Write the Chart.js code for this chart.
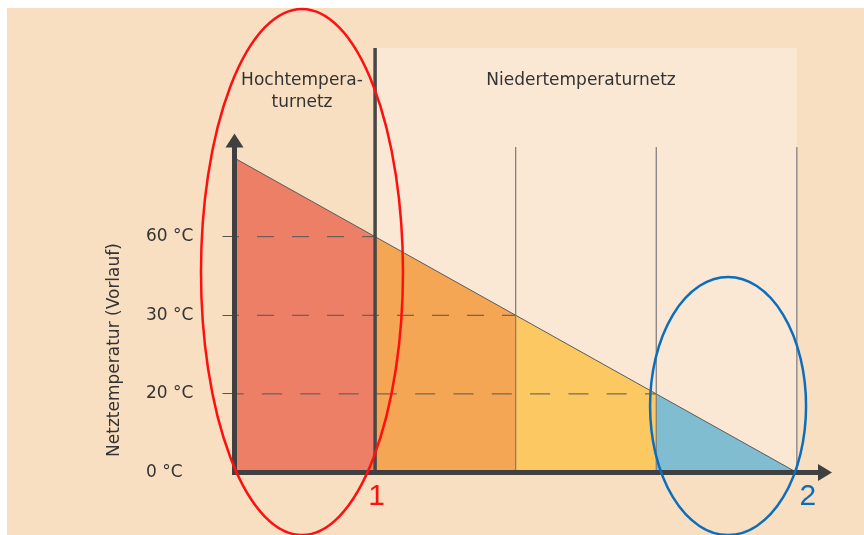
<!DOCTYPE html>
<html lang="de">
<head>
<meta charset="UTF-8">
<title>Netztemperatur</title>
<script src="https://cdn.jsdelivr.net/npm/chart.js"></script>
<style>
  html, body { margin: 0; padding: 0; background: #fff; }
  #wrap { width: 864px; height: 535px; position: relative; }
</style>
</head>
<body>
<div id="wrap"><canvas id="chart"></canvas></div>
<script>
// network sections along the x axis (equally spaced, schematic)
const stageX = [0, 1, 2, 3, 4];
// position of the supply temperature line on the (ordinal) temperature axis
const supplyLevel = [4, 3, 2, 1, 0];
// temperature axis ticks
const tempLevels = [0, 1, 2, 3];
const tempLabels = ['0 °C', '20 °C', '30 °C', '60 °C'];
// dashed guides: level and the section where they hit the supply line
const guideLevels = [3, 2, 1];
const guideEnds = [1, 2, 3];
// section areas under the line
const areaColors = ['#ec7f66', '#f5a654', '#fcc862', '#80bdd0'];
const netNames = [['Hochtempera-', 'turnetz'], ['Niedertemperaturnetz']];
const axisTitle = 'Netztemperatur (Vorlauf)';
const markers = ['1', '2'];

const FONT = "'DejaVu Sans', Verdana, sans-serif";
const guideDash = [[17, 18], [17, 18], [20, 18.3]];
const guideOffset = [12.5, 12.5, 10.8];

const datasets = [];
guideLevels.forEach((lvl, i) => {
    datasets.push({
        data: [{ x: 0, y: lvl }, { x: guideEnds[i], y: lvl }],
        borderColor: '#555',
        borderWidth: 1,
        borderDash: guideDash[i],
        borderDashOffset: guideOffset[i],
        pointRadius: 0,
        fill: false,
        order: 0
    });
});
for (let i = 0; i < stageX.length - 1; i++) {
    datasets.push({
        data: [
            { x: stageX[i], y: supplyLevel[i] },
            { x: stageX[i + 1], y: supplyLevel[i + 1] }
        ],
        backgroundColor: areaColors[i],
        borderColor: '#5a5a5a',
        borderWidth: 1,
        fill: 'origin',
        pointRadius: 0,
        order: 1
    });
}

// backgrounds, section lines, arrows, labels and the two marker ellipses
const decor = {
    id: 'decor',
    beforeDraw(chart) {
        const { ctx, scales: { x, y } } = chart;
        ctx.save();
        ctx.fillStyle = '#fff';
        ctx.fillRect(0, 0, chart.width, chart.height);
        ctx.fillStyle = '#f9dfc2';
        ctx.fillRect(7, 8, chart.width - 7, chart.height - 8);
        const x1 = x.getPixelForValue(stageX[1]);
        const x4 = x.getPixelForValue(stageX[4]);
        ctx.fillStyle = '#fae7d4';
        ctx.fillRect(x1, 48, x4 - x1, y.getPixelForValue(0) - 48);
        ctx.restore();
    },
    afterDatasetsDraw(chart) {
        const { ctx, chartArea: a, scales: { x, y } } = chart;
        const y0 = y.getPixelForValue(0);
        const x0 = x.getPixelForValue(0);
        ctx.save();

        // thin section lines
        ctx.strokeStyle = '#7a7a7a';
        ctx.lineWidth = 1.2;
        for (let i = 2; i < stageX.length; i++) {
            const px = x.getPixelForValue(stageX[i]);
            ctx.beginPath();
            ctx.moveTo(px, 147);
            ctx.lineTo(px, y0);
            ctx.stroke();
        }
        // border between high and low temperature net
        const xb = x.getPixelForValue(stageX[1]);
        ctx.strokeStyle = '#474747';
        ctx.lineWidth = 3.5;
        ctx.beginPath();
        ctx.moveTo(xb, 48);
        ctx.lineTo(xb, y0);
        ctx.stroke();

        // axes with arrow heads
        ctx.strokeStyle = '#404040';
        ctx.fillStyle = '#404040';
        ctx.lineWidth = 5;
        ctx.beginPath();
        ctx.moveTo(x0, y0 + 2.5);
        ctx.lineTo(x0, a.top + 12);
        ctx.moveTo(x0 - 2.5, y0);
        ctx.lineTo(a.right - 12, y0);
        ctx.stroke();
        ctx.beginPath();
        ctx.moveTo(x0, a.top - 1);
        ctx.lineTo(x0 - 9, a.top + 13);
        ctx.lineTo(x0 + 9, a.top + 13);
        ctx.closePath();
        ctx.fill();
        ctx.beginPath();
        ctx.moveTo(a.right, y0);
        ctx.lineTo(a.right - 14, y0 - 8.5);
        ctx.lineTo(a.right - 14, y0 + 8.5);
        ctx.closePath();
        ctx.fill();

        // texts
        ctx.fillStyle = '#333';
        ctx.font = '17px ' + FONT;
        ctx.textAlign = 'center';
        ctx.textBaseline = 'alphabetic';
        ctx.fillText(netNames[0][0], 302, 85);
        ctx.fillText(netNames[0][1], 302, 107);
        ctx.fillText(netNames[1][0], 581, 85);

        ctx.save();
        ctx.translate(115, 350);
        ctx.rotate(-Math.PI / 2);
        ctx.textBaseline = 'middle';
        ctx.fillText(axisTitle, 0, 0);
        ctx.restore();

        // marker ellipses
        ctx.lineWidth = 2.5;
        ctx.strokeStyle = '#ff1010';
        ctx.beginPath();
        ctx.ellipse(x.getPixelForValue(0.48), 272, 101, 263, 0, 0, Math.PI * 2);
        ctx.stroke();
        ctx.strokeStyle = '#0a6ebd';
        ctx.beginPath();
        ctx.ellipse(x.getPixelForValue(3.5) + 1.5, 406, 78, 129, 0, 0, Math.PI * 2);
        ctx.stroke();

        ctx.font = "30px 'Liberation Sans', Arial, sans-serif";
        ctx.fillStyle = '#ff1010';
        ctx.fillText(markers[0], x.getPixelForValue(1) + 1.5, 505);
        ctx.fillStyle = '#0a6ebd';
        ctx.fillText(markers[1], x.getPixelForValue(4) + 11, 505);

        ctx.restore();
    }
};

new Chart(document.getElementById('chart'), {
    type: 'line',
    data: { datasets: datasets },
    options: {
        responsive: true,
        maintainAspectRatio: false,
        animation: false,
        layout: { padding: { left: 146, right: 32, top: 134.5, bottom: 62.5 } },
        plugins: {
            legend: { display: false },
            tooltip: { enabled: false },
            title: { display: false }
        },
        scales: {
            x: { type: 'linear', min: 0, max: 4.25, display: false },
            y: {
                type: 'linear',
                min: 0,
                max: 4.3,
                afterBuildTicks: scale => {
                    scale.ticks = tempLevels.map(v => ({ value: v }));
                },
                afterFit: scale => { scale.width = 88.5; },
                ticks: {
                    callback: (value, index) => tempLabels[index],
                    crossAlign: 'far',
                    color: '#333',
                    font: { family: FONT, size: 17 }
                },
                grid: {
                    drawOnChartArea: false,
                    tickLength: 12,
                    tickWidth: 1,
                    color: c => (c.tick && c.tick.value === 0) ? 'rgba(0,0,0,0)' : '#555'
                },
                border: { display: false }
            }
        }
    },
    plugins: [decor]
});
</script>
</body>
</html>
